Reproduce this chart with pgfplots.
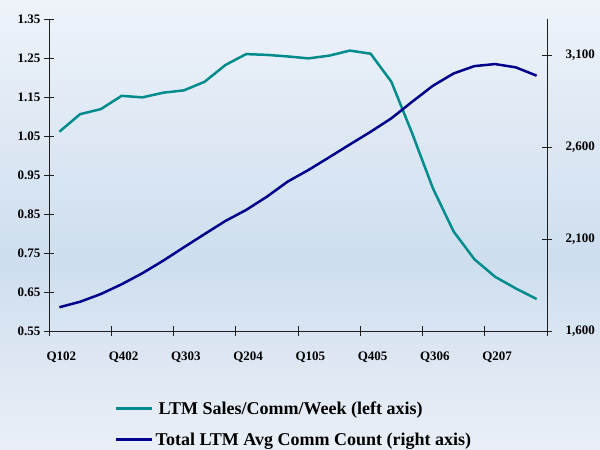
\documentclass[border=0pt]{standalone}
\usepackage{fontspec}
\setmainfont{Liberation Serif}
\usepackage{pgfplots}
\usepackage{pgfplotstable}
\pgfplotsset{compat=1.18}

\definecolor{salesteal}{RGB}{0,140,140}
\definecolor{countnavy}{RGB}{0,0,140}
\definecolor{bgtop}{RGB}{238,243,250}
\definecolor{bgmid}{RGB}{206,222,238}
\definecolor{bgbot}{RGB}{234,239,247}
\definecolor{axisgray}{RGB}{30,30,30}

% quarterly series, Q102 .. Q407
\pgfplotstableread{
i  sales  count
0  1.061  1729
1  1.106  1759
2  1.119  1801
3  1.153  1854
4  1.149  1914
5  1.161  1982
6  1.167  2055
7  1.189  2127
8  1.232  2198
9  1.260  2258
10 1.258  2330
11 1.254  2412
12 1.249  2475
13 1.256  2544
14 1.269  2614
15 1.261  2683
16 1.189  2756
17 1.057  2846
18 0.916  2933
19 0.805  3000
20 0.734  3040
21 0.689  3051
22 0.659  3033
23 0.632  2988
}\quarterly

\pgfplotsset{
  base/.style={
    scale only axis, width=498pt, height=312pt,
    at={(49pt,119pt)}, anchor=south west,
    xmin=-0.5, xmax=23.5,
    tick align=center, major tick length=10pt, minor tick length=10pt,
    tick style={axisgray, line width=0.8pt},
    axis line style={axisgray, line width=0.8pt},
    ticklabel style={font=\bfseries\fontsize{13}{15}\selectfont},
    /pgf/number format/assume math mode=true,
  },
}

\begin{document}
\begin{tikzpicture}
  % background gradient
  \shade[top color=bgtop, bottom color=bgmid] (0pt,190pt) rectangle (600pt,450pt);
  \shade[top color=bgmid, bottom color=bgbot] (0pt,0pt) rectangle (600pt,190.5pt);

  \begin{axis}[base,
    axis x line*=bottom, axis y line*=left,
    ymin=0.55, ymax=1.35,
    ytick={0.55,0.65,0.75,0.85,0.95,1.05,1.15,1.25,1.35},
    yticklabel style={/pgf/number format/.cd, fixed, fixed zerofill, precision=2},
    xtick={0,3,...,21},
    xticklabels={Q102,Q402,Q303,Q204,Q105,Q405,Q306,Q207},
    major x tick style={draw=none},
    minor xtick={-0.5,2.5,...,23.5},
    xticklabel style={yshift=-12pt, xshift=2pt},
  ]
    \addplot[salesteal, line width=2.5pt, line join=round] table[x=i, y=sales] {\quarterly};
  \end{axis}

  \begin{axis}[base,
    axis x line=none, axis y line*=right,
    ymin=1600, ymax=3296,
    ytick={1600,2100,2600,3100},
    yticklabel style={xshift=10pt},
    /pgf/number format/.cd, fixed, 1000 sep={,}, /pgfplots/.cd,
    legend style={at={(0.1265,-0.212)}, anchor=north west, draw=none, fill=none,
      font=\bfseries\fontsize{18}{20}\selectfont, row sep=13pt,
      cells={anchor=west}},
    legend image code/.code={\draw[#1] (0pt,0pt) -- (36pt,0pt);},
  ]
    \addlegendimage{salesteal, line width=2.5pt}
    \addlegendentry{\hspace{3pt}LTM Sales/Comm/Week (left axis)}
    \addplot[countnavy, line width=2.5pt, line join=round] table[x=i, y=count] {\quarterly};
    \addlegendentry{Total LTM Avg Comm Count (right axis)}
  \end{axis}

  \pgfresetboundingbox
  \path (0pt,0pt) rectangle (600pt,450pt);
\end{tikzpicture}
\end{document}
